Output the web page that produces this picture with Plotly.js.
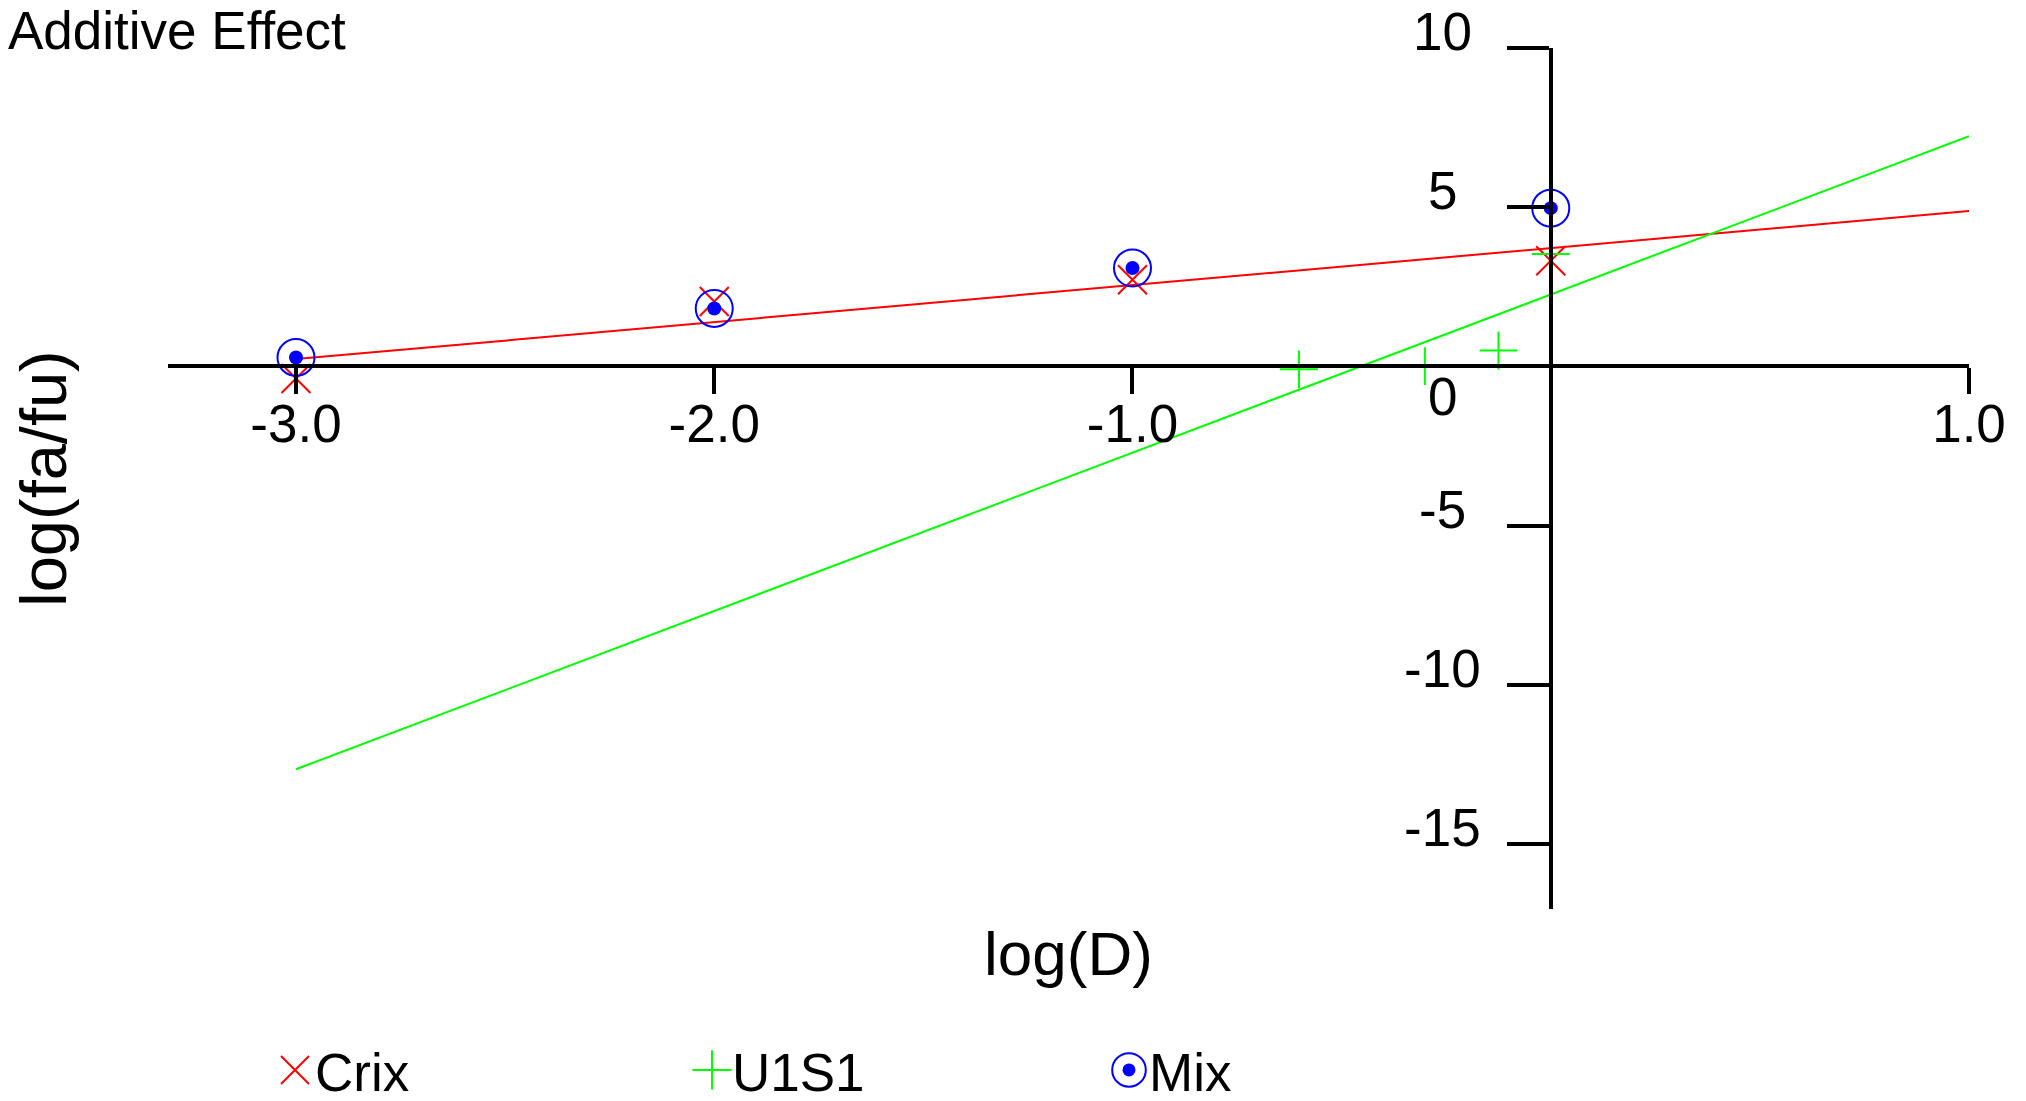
<!DOCTYPE html>
<html>
<head>
<meta charset="utf-8">
<script src="https://cdn.plot.ly/plotly-3.0.1.min.js"></script>
<style>
html, body { margin: 0; padding: 0; background: #ffffff; }
#chart { width: 2026px; height: 1101px; }
</style>
</head>
<body>
<div id="chart"></div>
<script>
// ---- data ----
const seriesNames = ['Crix', 'U1S1', 'Mix'];
const doseLogD = [-3, -2, -1, 0];
const crixY = [-0.38, 2.04, 2.72, 3.32];
const mixY = [0.28, 1.82, 3.09, 4.97];
const u1s1X = [-0.602, -0.301, -0.125, 0];
const u1s1Y = [-0.09, 0.01, 0.50, 3.53];
const crixFitX = [-3, 1];
const crixFitY = [0.23, 4.88];
const u1s1FitX = [-3, 1];
const u1s1FitY = [-12.65, 7.23];
const xTickVals = [-3, -2, -1, 1];
const xTickText = ['-3.0', '-2.0', '-1.0', '1.0'];
const yTickVals = [10, 5, 0, -5, -10, -15];
const yTickText = ['10', '5', '0', '-5', '-10', '-15'];
const xRange = [-3.306, 1.0];
const yRange = [-17.04, 10];

const FONT = 'Liberation Sans, Arial, Helvetica, sans-serif';
const RED = '#ff0000', GREEN = '#00ff00', BLUE = '#0000ff';

const traces = [
  { x: crixFitX, y: crixFitY, mode: 'lines', line: { color: RED, width: 2 }, showlegend: false, hoverinfo: 'skip' },
  { x: u1s1FitX, y: u1s1FitY, mode: 'lines', line: { color: GREEN, width: 2 }, showlegend: false, hoverinfo: 'skip' },
  { x: doseLogD, y: crixY, mode: 'markers', name: seriesNames[0],
    marker: { symbol: 'x-thin-open', size: 29, color: RED, line: { color: RED, width: 2 } } },
  { x: u1s1X, y: u1s1Y, mode: 'markers', name: seriesNames[1],
    marker: { symbol: 'cross-thin-open', size: 27, color: GREEN, line: { color: GREEN, width: 2 } } },
  { x: doseLogD, y: mixY, mode: 'markers', name: seriesNames[2],
    marker: { symbol: 'circle-open', size: 37, color: BLUE, line: { color: BLUE, width: 2 } } },
  { x: doseLogD, y: mixY, mode: 'markers', showlegend: false,
    marker: { symbol: 'circle', size: 14, color: BLUE, line: { width: 0 } } }
];

const yLabelAnnotations = yTickVals.map((v, i) => ({
  xref: 'x', yref: 'y', x: 0, y: v, text: yTickText[i], showarrow: false,
  xanchor: 'center', yanchor: 'bottom', xshift: -108, yshift: v === 0 ? -62 : -15,
  font: { family: FONT, size: 53, color: '#000' }
}));

const layout = {
  width: 2026, height: 1101,
  paper_bgcolor: '#ffffff', plot_bgcolor: '#ffffff',
  margin: { l: 168, r: 57, t: 48, b: 192 },
  font: { family: FONT, color: '#000' },
  title: {
    text: 'Additive Effect', font: { family: FONT, size: 53, color: '#000' },
    xref: 'container', x: 8 / 2026, xanchor: 'left',
    yref: 'container', y: 1 - 49 / 1101, yanchor: 'bottom'
  },
  xaxis: {
    range: xRange, anchor: 'free', position: (0 - yRange[0]) / (yRange[1] - yRange[0]), side: 'bottom',
    showgrid: false, zeroline: false, showline: true, linecolor: '#000', linewidth: 4,
    ticks: 'outside', ticklen: 26, tickwidth: 4, tickcolor: '#000',
    tickvals: xTickVals, ticktext: xTickText, ticklabelstandoff: -16,
    tickfont: { family: FONT, size: 53, color: '#000' },
    title: { text: 'log(D)', font: { family: FONT, size: 62, color: '#000' }, standoff: 479 }
  },
  yaxis: {
    range: yRange, anchor: 'free', position: (0 - xRange[0]) / (xRange[1] - xRange[0]), side: 'left',
    showgrid: false, zeroline: false, showline: true, linecolor: '#000', linewidth: 4,
    ticks: 'outside', ticklen: 42, tickwidth: 4, tickcolor: '#000',
    tickvals: yTickVals, showticklabels: false,
    title: { text: 'log(fa/fu)', font: { family: FONT, size: 65, color: '#000' }, standoff: 1418 }
  },
  annotations: yLabelAnnotations,
  showlegend: true,
  legend: {
    orientation: 'h', xref: 'container', yref: 'container',
    x: 275 / 2026, xanchor: 'left', y: 1 - 1029 / 1101, yanchor: 'top',
    font: { family: FONT, size: 53, color: '#000' },
    entrywidth: 372, entrywidthmode: 'pixels', itemsizing: 'trace',
    bgcolor: 'rgba(0,0,0,0)', borderwidth: 0
  }
};

// legend symbol scale factors (Plotly caps legend markers at 16px)
const legendSymbolScale = [1.75, 1.75, 2.1];

Plotly.newPlot('chart', traces, layout, { staticPlot: true, displayModeBar: false }).then(gd => {
  const items = gd.querySelectorAll('.legend g.traces');
  items.forEach((g, i) => {
    const s = legendSymbolScale[i] || 1;
    g.querySelectorAll('g.legendpoints path.scatterpts').forEach(p => {
      p.setAttribute('transform', (p.getAttribute('transform') || '') + ' scale(' + s + ')');
      p.style.vectorEffect = 'non-scaling-stroke';
      if (i === 2) {
        const dot = document.createElementNS('http://www.w3.org/2000/svg', 'circle');
        dot.setAttribute('r', 6.5);
        dot.setAttribute('fill', BLUE);
        dot.setAttribute('transform', p.getAttribute('transform').replace(/scale\([^)]*\)/, ''));
        p.parentNode.appendChild(dot);
      }
    });
  });
});
</script>
</body>
</html>
